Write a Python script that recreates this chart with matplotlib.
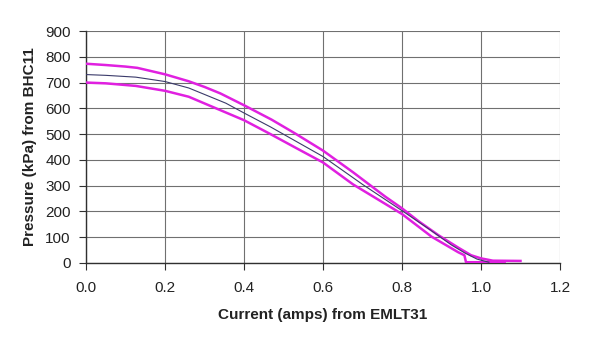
import numpy as np
import matplotlib
matplotlib.use("Agg")
import matplotlib.pyplot as plt

plt.rcParams['font.family'] = ['Liberation Sans', 'DejaVu Sans']

# upper magenta trace
amps_up = [0.0, 0.05, 0.10, 0.13, 0.20, 0.26, 0.30, 0.34, 0.40, 0.47, 0.53, 0.60,
           0.676, 0.758, 0.80, 0.842, 0.892, 0.942, 0.975, 1.0, 1.03, 1.10]
kpa_up = [773, 768, 762, 757, 732, 705, 683, 658, 612, 556, 502, 436,
          352, 257, 212, 162, 108, 60, 30, 18, 9, 8]

# lower magenta trace
amps_lo = [0.0, 0.05, 0.126, 0.20, 0.26, 0.32, 0.40, 0.467, 0.532, 0.60,
           0.676, 0.80, 0.875, 0.942, 0.958, 0.962, 1.0, 1.06]
kpa_lo = [700, 697, 687, 668, 645, 606, 554, 500, 446, 390,
          305, 190, 102, 42, 30, 3, 3, 3]

# middle thin trace
amps_mid = [0.0, 0.05, 0.126, 0.20, 0.26, 0.354, 0.40, 0.467, 0.60,
            0.70, 0.80, 0.87, 0.925, 0.96, 0.99, 1.02]
kpa_mid = [731, 728, 721, 704, 679, 620, 582, 528, 413,
           305, 203, 130, 70, 38, 15, 3]

fig = plt.figure(figsize=(5.96, 3.37), dpi=100)
ax = fig.add_axes([0.1443, 0.2196, 0.7953, 0.6884])

ax.plot(amps_up, kpa_up, color='#e020e0', lw=1.8, zorder=3)
ax.plot(amps_lo, kpa_lo, color='#e020e0', lw=1.8, zorder=3)
ax.plot(amps_mid, kpa_mid, color='#3a3a6a', lw=0.8, zorder=4)

ax.set_xlim(0, 1.2)
ax.set_ylim(0, 900)
ax.set_xticks(np.arange(0, 1.21, 0.2))
ax.set_yticks(np.arange(0, 901, 100))
ax.set_xticklabels(['%.1f' % v for v in np.arange(0, 1.21, 0.2)])
ax.grid(True, color='#707070', lw=0.8)
ax.set_axisbelow(True)

for s in ['top', 'right']:
    ax.spines[s].set_visible(False)
for s in ['left', 'bottom']:
    ax.spines[s].set_color('#303030')
    ax.spines[s].set_linewidth(1.0)

ax.tick_params(direction='out', length=5, width=0.8, colors='#303030',
               labelsize=11, labelcolor='#222222')
ax.tick_params(axis='x', pad=8)
ax.tick_params(axis='y', pad=6)

ax.set_xlabel('Current (amps) from EMLT31', fontsize=11, fontweight='bold',
              color='#222222', labelpad=9)
ax.set_ylabel('Pressure (kPa) from BHC11', fontsize=11, fontweight='bold',
              color='#222222', labelpad=6)

fig.savefig('out.png', dpi=100)
